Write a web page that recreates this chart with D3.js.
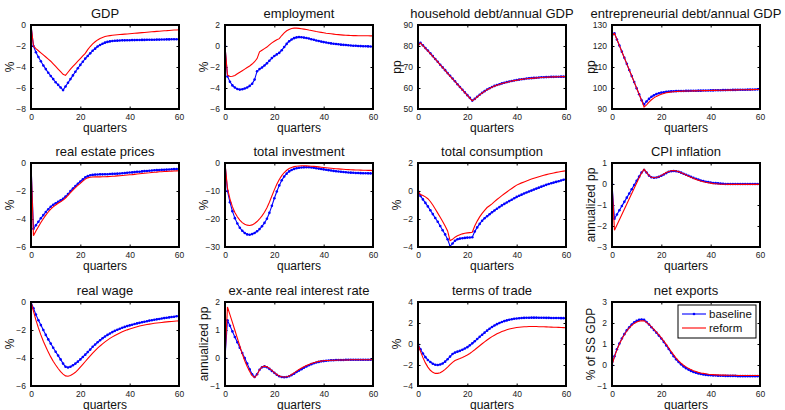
<!DOCTYPE html>
<html>
<head>
<meta charset="utf-8">
<script src="https://cdn.jsdelivr.net/npm/d3@7"></script>
<style>
  html, body { margin: 0; padding: 0; background: #fff; }
  svg { display: block; font-family: "Liberation Sans", Arial, Helvetica, sans-serif; }
</style>
</head>
<body>
<svg id="chart" width="785" height="410"></svg>
<script>
// Impulse responses over 60 quarters: baseline vs reform scenario.
const quarters = d3.range(0, 61);

const titles = ["GDP", "employment", "household debt/annual GDP", "entrepreneurial debt/annual GDP",
  "real estate prices", "total investment", "total consumption", "CPI inflation",
  "real wage", "ex-ante real interest rate", "terms of trade", "net exports"];
const yLabels = ["%", "%", "pp", "pp", "%", "%", "%", "annualized pp",
  "%", "annualized pp", "%", "% of SS GDP"];
const yDomains = [[-8, 0], [-6, 2], [50, 90], [90, 130], [-6, 0], [-30, 0], [-4, 2], [-3, 1],
  [-6, 0], [-1, 2], [-4, 4], [-1, 3]];
const yTickValues = [[-8, -6, -4, -2, 0], [-6, -4, -2, 0, 2], [50, 60, 70, 80, 90], [90, 100, 110, 120, 130],
  [-6, -4, -2, 0], [-30, -20, -10, 0], [-4, -2, 0, 2], [-3, -2, -1, 0, 1],
  [-6, -4, -2, 0], [-1, 0, 1, 2], [-4, -2, 0, 2, 4], [-1, 0, 1, 2, 3]];
const xTickValues = [0, 20, 40, 60];
const seriesNames = ["baseline", "reform"];

const gdpBase = [0, -2.0, -2.6, -3.05, -3.45, -3.85, -4.2, -4.55, -4.85, -5.15, -5.45, -5.7, -5.95, -6.2, -5.85, -5.5, -5.15, -4.8, -4.45, -4.12, -3.8, -3.5, -3.2, -2.95, -2.7, -2.45, -2.25, -2.05, -1.9, -1.78, -1.68, -1.61, -1.56, -1.53, -1.5, -1.49, -1.47, -1.46, -1.46, -1.45, -1.45, -1.44, -1.44, -1.43, -1.43, -1.42, -1.42, -1.41, -1.41, -1.4, -1.4, -1.39, -1.39, -1.38, -1.38, -1.37, -1.37, -1.36, -1.36, -1.35, -1.35];
const gdpReform = [0, -2.0, -2.25, -2.45, -2.65, -2.85, -3.05, -3.25, -3.45, -3.7, -3.95, -4.2, -4.45, -4.7, -4.8, -4.5, -4.2, -3.95, -3.7, -3.45, -3.2, -2.95, -2.7, -2.35, -2.05, -1.8, -1.6, -1.42, -1.28, -1.18, -1.1, -1.05, -1.01, -0.98, -0.95, -0.93, -0.91, -0.89, -0.87, -0.85, -0.83, -0.81, -0.79, -0.77, -0.75, -0.73, -0.71, -0.69, -0.67, -0.65, -0.63, -0.61, -0.59, -0.57, -0.55, -0.54, -0.52, -0.5, -0.48, -0.47, -0.45];

const empBase = [0, -2.9, -3.4, -3.75, -3.95, -4.1, -4.15, -4.12, -4.05, -3.95, -3.8, -3.6, -3.2, -2.4, -2.2, -2.05, -1.85, -1.65, -1.4, -1.15, -0.95, -0.8, -0.65, -0.4, -0.1, 0.2, 0.45, 0.62, 0.75, 0.82, 0.85, 0.83, 0.8, 0.76, 0.71, 0.65, 0.59, 0.53, 0.47, 0.42, 0.37, 0.33, 0.29, 0.25, 0.22, 0.19, 0.16, 0.13, 0.11, 0.09, 0.07, 0.05, 0.03, 0.02, 0.0, -0.01, -0.02, -0.03, -0.04, -0.05, -0.06];
const empReform = [0, -2.75, -2.9, -2.88, -2.8, -2.65, -2.5, -2.35, -2.2, -2.05, -1.9, -1.72, -1.5, -1.2, -0.55, -0.4, -0.25, -0.1, 0.1, 0.3, 0.45, 0.6, 0.7, 1.0, 1.25, 1.45, 1.58, 1.66, 1.7, 1.7, 1.68, 1.65, 1.61, 1.57, 1.52, 1.48, 1.43, 1.38, 1.34, 1.3, 1.26, 1.22, 1.19, 1.16, 1.13, 1.1, 1.08, 1.06, 1.04, 1.02, 1.01, 1.0, 0.99, 0.99, 0.98, 0.98, 0.97, 0.97, 0.97, 0.96, 0.96];

const hhDebtBase = [80.5, 81.5, 80.3, 79.0, 77.8, 76.5, 75.2, 73.8, 72.5, 71.1, 69.8, 68.5, 67.1, 65.8, 64.5, 63.2, 61.8, 60.5, 59.2, 57.9, 56.6, 55.3, 54.0, 54.8, 55.8, 56.8, 57.7, 58.5, 59.3, 59.9, 60.5, 61.0, 61.4, 61.8, 62.2, 62.5, 62.8, 63.1, 63.3, 63.6, 63.8, 64.0, 64.2, 64.3, 64.5, 64.6, 64.7, 64.8, 64.9, 65.0, 65.1, 65.15, 65.2, 65.25, 65.3, 65.3, 65.35, 65.35, 65.4, 65.4, 65.4];
const hhDebtReform = [80.0, 81.4, 80.2, 78.9, 77.7, 76.4, 75.1, 73.7, 72.4, 71.0, 69.7, 68.4, 67.0, 65.7, 64.4, 63.1, 61.7, 60.4, 59.1, 57.8, 56.5, 55.2, 53.9, 54.7, 55.7, 56.7, 57.6, 58.4, 59.2, 59.8, 60.4, 60.9, 61.3, 61.7, 62.1, 62.4, 62.7, 63.0, 63.3, 63.5, 63.7, 63.9, 64.1, 64.3, 64.4, 64.5, 64.6, 64.7, 64.8, 64.9, 65.0, 65.1, 65.15, 65.2, 65.25, 65.3, 65.3, 65.35, 65.35, 65.4, 65.4];

const entDebtBase = [125, 126, 123.1, 120.2, 117.3, 114.4, 111.5, 108.6, 105.7, 102.8, 99.9, 97.0, 94.2, 92.2, 93.6, 94.8, 95.8, 96.5, 97.1, 97.5, 97.8, 98.0, 98.2, 98.3, 98.4, 98.45, 98.5, 98.55, 98.6, 98.6, 98.65, 98.65, 98.7, 98.7, 98.7, 98.75, 98.75, 98.8, 98.8, 98.8, 98.85, 98.85, 98.9, 98.9, 98.95, 99.0, 99.0, 99.05, 99.05, 99.1, 99.1, 99.15, 99.15, 99.2, 99.2, 99.25, 99.25, 99.3, 99.3, 99.35, 99.4];
const entDebtReform = [125, 126, 123.1, 120.2, 117.3, 114.4, 111.5, 108.6, 105.7, 102.8, 99.9, 97.0, 94.1, 90.9, 92.0, 93.3, 94.4, 95.3, 96.0, 96.6, 97.0, 97.4, 97.7, 97.9, 98.1, 98.2, 98.3, 98.4, 98.45, 98.5, 98.55, 98.6, 98.6, 98.65, 98.65, 98.7, 98.7, 98.75, 98.75, 98.8, 98.8, 98.85, 98.85, 98.9, 98.9, 98.95, 98.95, 99.0, 99.0, 99.05, 99.1, 99.1, 99.15, 99.15, 99.2, 99.2, 99.25, 99.25, 99.3, 99.3, 99.3];

const housePxBase = [0, -4.7, -4.45, -4.2, -3.95, -3.72, -3.5, -3.3, -3.12, -2.98, -2.87, -2.77, -2.67, -2.55, -2.4, -2.22, -2.0, -1.82, -1.65, -1.48, -1.32, -1.17, -1.03, -0.94, -0.88, -0.85, -0.83, -0.82, -0.81, -0.81, -0.8, -0.8, -0.79, -0.78, -0.77, -0.76, -0.75, -0.73, -0.72, -0.7, -0.68, -0.67, -0.65, -0.63, -0.62, -0.6, -0.58, -0.57, -0.55, -0.54, -0.52, -0.51, -0.5, -0.49, -0.48, -0.47, -0.46, -0.45, -0.44, -0.43, -0.42];
const housePxReform = [0, -5.2, -4.85, -4.55, -4.25, -3.98, -3.72, -3.5, -3.3, -3.13, -3.0, -2.88, -2.77, -2.65, -2.5, -2.32, -2.12, -1.93, -1.76, -1.6, -1.45, -1.3, -1.15, -1.06, -1.02, -1.0, -0.99, -0.99, -0.99, -0.98, -0.98, -0.97, -0.96, -0.95, -0.94, -0.92, -0.91, -0.89, -0.88, -0.86, -0.84, -0.83, -0.81, -0.79, -0.77, -0.75, -0.73, -0.71, -0.7, -0.68, -0.66, -0.65, -0.63, -0.62, -0.61, -0.6, -0.59, -0.58, -0.57, -0.56, -0.55];

const investBase = [0, -10, -14, -17.2, -19.7, -21.6, -23.1, -24.2, -25.0, -25.5, -25.6, -25.4, -25.0, -24.4, -23.6, -22.6, -21.4, -19.9, -17.8, -15.3, -12.6, -10.2, -8.0, -6.2, -4.8, -3.8, -3.0, -2.5, -2.1, -1.85, -1.7, -1.6, -1.55, -1.5, -1.52, -1.6, -1.72, -1.86, -2.0, -2.14, -2.28, -2.42, -2.56, -2.7, -2.82, -2.94, -3.05, -3.15, -3.24, -3.32, -3.39, -3.45, -3.5, -3.55, -3.59, -3.62, -3.65, -3.68, -3.7, -3.72, -3.74];
const investReform = [0, -9, -12.8, -15.6, -17.7, -19.2, -20.4, -21.3, -21.9, -22.2, -22.3, -22.1, -21.6, -20.9, -20.0, -18.9, -17.6, -16.0, -14.0, -11.8, -9.6, -7.6, -5.9, -4.5, -3.4, -2.6, -2.0, -1.6, -1.3, -1.15, -1.05, -1.0, -1.0, -1.02, -1.07, -1.14, -1.22, -1.3, -1.4, -1.5, -1.6, -1.7, -1.79, -1.88, -1.96, -2.04, -2.11, -2.18, -2.24, -2.3, -2.35, -2.4, -2.44, -2.48, -2.52, -2.55, -2.58, -2.61, -2.63, -2.65, -2.67];

const consBase = [0, -0.35, -0.6, -0.85, -1.1, -1.38, -1.65, -1.93, -2.2, -2.5, -2.8, -3.1, -3.45, -3.95, -3.75, -3.55, -3.45, -3.4, -3.37, -3.35, -3.33, -3.32, -3.3, -2.9, -2.6, -2.35, -2.12, -1.95, -1.8, -1.66, -1.52, -1.39, -1.27, -1.15, -1.03, -0.92, -0.82, -0.72, -0.62, -0.52, -0.42, -0.34, -0.26, -0.18, -0.11, -0.04, 0.03, 0.1, 0.17, 0.24, 0.31, 0.38, 0.44, 0.5, 0.55, 0.6, 0.65, 0.7, 0.75, 0.8, 0.85];
const consReform = [0, -0.25, -0.33, -0.42, -0.55, -0.75, -1.0, -1.28, -1.58, -1.88, -2.18, -2.5, -2.85, -3.55, -3.45, -3.3, -3.2, -3.12, -3.06, -3.02, -2.99, -2.97, -2.95, -2.5, -2.15, -1.85, -1.6, -1.38, -1.18, -1.05, -0.92, -0.76, -0.61, -0.47, -0.33, -0.2, -0.07, 0.06, 0.18, 0.3, 0.42, 0.5, 0.58, 0.65, 0.72, 0.79, 0.85, 0.91, 0.97, 1.02, 1.07, 1.12, 1.17, 1.21, 1.25, 1.29, 1.33, 1.36, 1.39, 1.42, 1.45];

const cpiBase = [0, -1.65, -1.45, -1.25, -1.05, -0.85, -0.65, -0.45, -0.25, -0.05, 0.15, 0.35, 0.55, 0.67, 0.55, 0.4, 0.32, 0.3, 0.31, 0.34, 0.39, 0.45, 0.52, 0.58, 0.61, 0.62, 0.61, 0.58, 0.54, 0.49, 0.44, 0.39, 0.34, 0.29, 0.25, 0.21, 0.17, 0.14, 0.11, 0.09, 0.07, 0.05, 0.04, 0.03, 0.02, 0.01, 0.0, 0.0, 0.0, 0.0, 0.0, 0.0, 0.0, 0.0, 0.0, 0.0, 0.0, 0.0, 0.0, 0.0, 0.0];
const cpiReform = [0, -2.2, -1.95, -1.7, -1.45, -1.2, -0.95, -0.7, -0.45, -0.2, 0.05, 0.3, 0.52, 0.7, 0.55, 0.4, 0.32, 0.3, 0.31, 0.35, 0.41, 0.48, 0.55, 0.6, 0.63, 0.64, 0.62, 0.59, 0.54, 0.49, 0.43, 0.37, 0.32, 0.27, 0.22, 0.18, 0.14, 0.11, 0.08, 0.06, 0.04, 0.02, 0.01, 0.0, -0.01, -0.01, -0.01, -0.02, -0.02, -0.02, -0.02, -0.02, -0.02, -0.02, -0.02, -0.02, -0.02, -0.02, -0.02, -0.02, -0.02];

const wageBase = [0, -0.45, -0.9, -1.3, -1.65, -2.0, -2.35, -2.67, -2.97, -3.27, -3.55, -3.83, -4.1, -4.4, -4.62, -4.68, -4.62, -4.52, -4.4, -4.26, -4.1, -3.93, -3.76, -3.58, -3.4, -3.2, -3.04, -2.88, -2.73, -2.59, -2.46, -2.35, -2.25, -2.15, -2.06, -1.98, -1.91, -1.84, -1.78, -1.72, -1.67, -1.62, -1.57, -1.53, -1.49, -1.45, -1.41, -1.37, -1.33, -1.3, -1.27, -1.24, -1.21, -1.18, -1.15, -1.12, -1.1, -1.07, -1.05, -1.02, -1.0];
const wageReform = [0, -0.65, -1.3, -1.85, -2.35, -2.8, -3.2, -3.58, -3.92, -4.23, -4.5, -4.75, -4.97, -5.15, -5.28, -5.3, -5.25, -5.15, -5.02, -4.85, -4.65, -4.45, -4.25, -4.05, -3.85, -3.65, -3.47, -3.3, -3.14, -2.99, -2.85, -2.72, -2.6, -2.49, -2.39, -2.3, -2.21, -2.13, -2.06, -1.99, -1.93, -1.87, -1.82, -1.77, -1.72, -1.68, -1.64, -1.61, -1.58, -1.55, -1.52, -1.5, -1.48, -1.46, -1.44, -1.42, -1.4, -1.39, -1.37, -1.36, -1.35];

const rateBase = [0, 1.35, 1.15, 0.95, 0.75, 0.56, 0.37, 0.18, 0.0, -0.2, -0.4, -0.58, -0.68, -0.58, -0.42, -0.33, -0.3, -0.33, -0.39, -0.46, -0.53, -0.6, -0.65, -0.68, -0.69, -0.68, -0.65, -0.61, -0.56, -0.5, -0.45, -0.4, -0.35, -0.3, -0.26, -0.22, -0.19, -0.16, -0.14, -0.12, -0.11, -0.1, -0.09, -0.08, -0.08, -0.07, -0.07, -0.07, -0.07, -0.06, -0.06, -0.06, -0.06, -0.06, -0.06, -0.06, -0.06, -0.06, -0.06, -0.06, -0.06];
const rateReform = [0, 1.82, 1.55, 1.27, 0.99, 0.71, 0.43, 0.15, -0.1, -0.3, -0.48, -0.63, -0.7, -0.6, -0.42, -0.32, -0.29, -0.31, -0.37, -0.44, -0.52, -0.59, -0.64, -0.67, -0.68, -0.67, -0.64, -0.59, -0.53, -0.47, -0.41, -0.36, -0.31, -0.27, -0.23, -0.2, -0.17, -0.14, -0.12, -0.11, -0.1, -0.09, -0.09, -0.08, -0.08, -0.08, -0.07, -0.07, -0.07, -0.07, -0.07, -0.06, -0.06, -0.06, -0.06, -0.06, -0.06, -0.06, -0.06, -0.06, -0.06];

const totBase = [0, -0.5, -0.9, -1.25, -1.52, -1.72, -1.88, -1.98, -2.0, -1.95, -1.85, -1.68, -1.45, -1.2, -0.95, -0.82, -0.73, -0.65, -0.55, -0.43, -0.3, -0.13, 0.06, 0.26, 0.47, 0.68, 0.88, 1.08, 1.27, 1.45, 1.62, 1.76, 1.89, 2.0, 2.1, 2.18, 2.25, 2.31, 2.36, 2.4, 2.43, 2.45, 2.47, 2.49, 2.5, 2.5, 2.51, 2.51, 2.51, 2.5, 2.5, 2.5, 2.49, 2.49, 2.48, 2.48, 2.47, 2.47, 2.46, 2.46, 2.45];
const totReform = [0, -0.7, -1.3, -1.8, -2.2, -2.5, -2.7, -2.8, -2.8, -2.73, -2.6, -2.42, -2.2, -1.97, -1.75, -1.58, -1.47, -1.38, -1.28, -1.17, -1.05, -0.9, -0.73, -0.55, -0.36, -0.17, 0.02, 0.2, 0.38, 0.55, 0.7, 0.84, 0.97, 1.08, 1.18, 1.27, 1.35, 1.42, 1.48, 1.53, 1.57, 1.6, 1.62, 1.64, 1.65, 1.66, 1.66, 1.66, 1.66, 1.65, 1.65, 1.64, 1.63, 1.62, 1.61, 1.6, 1.59, 1.58, 1.57, 1.56, 1.55];

const nxBase = [0, 0.42, 0.75, 1.02, 1.26, 1.47, 1.65, 1.8, 1.93, 2.03, 2.1, 2.15, 2.17, 2.15, 2.05, 1.93, 1.8, 1.67, 1.54, 1.4, 1.26, 1.1, 0.93, 0.76, 0.58, 0.42, 0.27, 0.14, 0.03, -0.07, -0.15, -0.22, -0.28, -0.33, -0.37, -0.4, -0.43, -0.45, -0.47, -0.48, -0.49, -0.5, -0.5, -0.51, -0.51, -0.51, -0.52, -0.52, -0.52, -0.52, -0.52, -0.53, -0.53, -0.53, -0.53, -0.53, -0.53, -0.53, -0.53, -0.53, -0.53];
const nxReform = [0, 0.4, 0.72, 1.0, 1.24, 1.45, 1.62, 1.77, 1.89, 1.98, 2.05, 2.09, 2.11, 2.1, 2.03, 1.93, 1.82, 1.7, 1.57, 1.43, 1.29, 1.14, 0.98, 0.81, 0.64, 0.48, 0.33, 0.2, 0.09, -0.01, -0.09, -0.16, -0.22, -0.27, -0.31, -0.35, -0.38, -0.4, -0.42, -0.44, -0.45, -0.46, -0.47, -0.47, -0.48, -0.48, -0.48, -0.49, -0.49, -0.49, -0.49, -0.5, -0.5, -0.5, -0.5, -0.5, -0.5, -0.5, -0.5, -0.5, -0.5];

const baselineSeries = [gdpBase, empBase, hhDebtBase, entDebtBase, housePxBase, investBase, consBase, cpiBase,
  wageBase, rateBase, totBase, nxBase];
const reformSeries = [gdpReform, empReform, hhDebtReform, entDebtReform, housePxReform, investReform, consReform, cpiReform,
  wageReform, rateReform, totReform, nxReform];

// ---- layout (3 rows x 4 columns of small axes) ----
const svg = d3.select("#chart");
const plotW = 148, plotH = 84;
const colLeft = [31, 225, 418, 612];
const rowTop = [25, 163, 302];
const blue = "#0000ff", red = "#ff0000";
const tickLen = 2.5;

titles.forEach((title, i) => {
  const col = i % 4, row = Math.floor(i / 4);
  const g = svg.append("g").attr("transform", `translate(${colLeft[col]},${rowTop[row]})`);

  const x = d3.scaleLinear().domain([0, 60]).range([0, plotW]);
  const y = d3.scaleLinear().domain(yDomains[i]).range([plotH, 0]);

  // tick labels via d3 axes, tick marks drawn inward on all four sides
  const xAxis = g.append("g").attr("transform", `translate(0,${plotH})`)
    .call(d3.axisBottom(x).tickValues(xTickValues).tickSize(-tickLen).tickPadding(5).tickFormat(d3.format("d")));
  const xAxisTop = g.append("g")
    .call(d3.axisTop(x).tickValues(xTickValues).tickSize(-tickLen).tickFormat(""));
  const yAxis = g.append("g")
    .call(d3.axisLeft(y).tickValues(yTickValues[i]).tickSize(-tickLen).tickPadding(5).tickFormat(d3.format("d")));
  const yAxisRight = g.append("g").attr("transform", `translate(${plotW},0)`)
    .call(d3.axisRight(y).tickValues(yTickValues[i]).tickSize(-tickLen).tickFormat(""));
  [xAxis, xAxisTop, yAxis, yAxisRight].forEach(a => {
    a.select(".domain").remove();
    a.selectAll(".tick line").attr("stroke", "#000").attr("stroke-width", 1);
    a.selectAll(".tick text").attr("fill", "#222").style("font-size", "8.5px")
      .style("font-family", "'Liberation Sans', Arial, sans-serif");
  });

  const clipId = "clip" + i;
  g.append("clipPath").attr("id", clipId).append("rect")
    .attr("x", -1).attr("y", -1).attr("width", plotW + 2).attr("height", plotH + 2);
  const plot = g.append("g").attr("clip-path", `url(#${clipId})`);

  const line = d3.line().x((d, k) => x(quarters[k])).y(d => y(d));

  plot.append("path").datum(baselineSeries[i])
    .attr("fill", "none").attr("stroke", blue).attr("stroke-width", 1.1).attr("d", line);
  plot.selectAll("circle.mk").data(baselineSeries[i]).join("circle")
    .attr("class", "mk")
    .attr("cx", (d, k) => x(quarters[k])).attr("cy", d => y(d))
    .attr("r", 1.3).attr("fill", blue);
  plot.append("path").datum(reformSeries[i])
    .attr("fill", "none").attr("stroke", red).attr("stroke-width", 1.1).attr("d", line);

  // axes box
  g.append("rect").attr("width", plotW).attr("height", plotH)
    .attr("fill", "none").attr("stroke", "#000").attr("stroke-width", 2);

  g.append("text").attr("x", plotW / 2).attr("y", -7.5).attr("text-anchor", "middle")
    .style("font-size", "13px").attr("fill", "#111").text(title);
  g.append("text").attr("x", plotW / 2).attr("y", plotH + 23).attr("text-anchor", "middle")
    .style("font-size", "12px").attr("fill", "#111").text("quarters");
  g.append("text").attr("transform", `translate(${-17},${plotH / 2}) rotate(-90)`)
    .attr("text-anchor", "middle").style("font-size", "12px").attr("fill", "#111").text(yLabels[i]);

  // legend in the last panel
  if (i === titles.length - 1) {
    const lg = g.append("g").attr("transform", `translate(${66},${3})`);
    lg.append("rect").attr("width", 78).attr("height", 33)
      .attr("fill", "#fff").attr("stroke", "#000").attr("stroke-width", 1);
    const colors = [blue, red];
    seriesNames.forEach((name, k) => {
      const ly = 9 + k * 14;
      lg.append("line").attr("x1", 4).attr("x2", 28).attr("y1", ly).attr("y2", ly)
        .attr("stroke", colors[k]).attr("stroke-width", 1.1);
      if (k === 0) lg.append("circle").attr("cx", 16).attr("cy", ly).attr("r", 1.3).attr("fill", blue);
      lg.append("text").attr("x", 31).attr("y", ly + 4).style("font-size", "11.5px")
        .attr("fill", "#111").text(name);
    });
  }
});
</script>
</body>
</html>
